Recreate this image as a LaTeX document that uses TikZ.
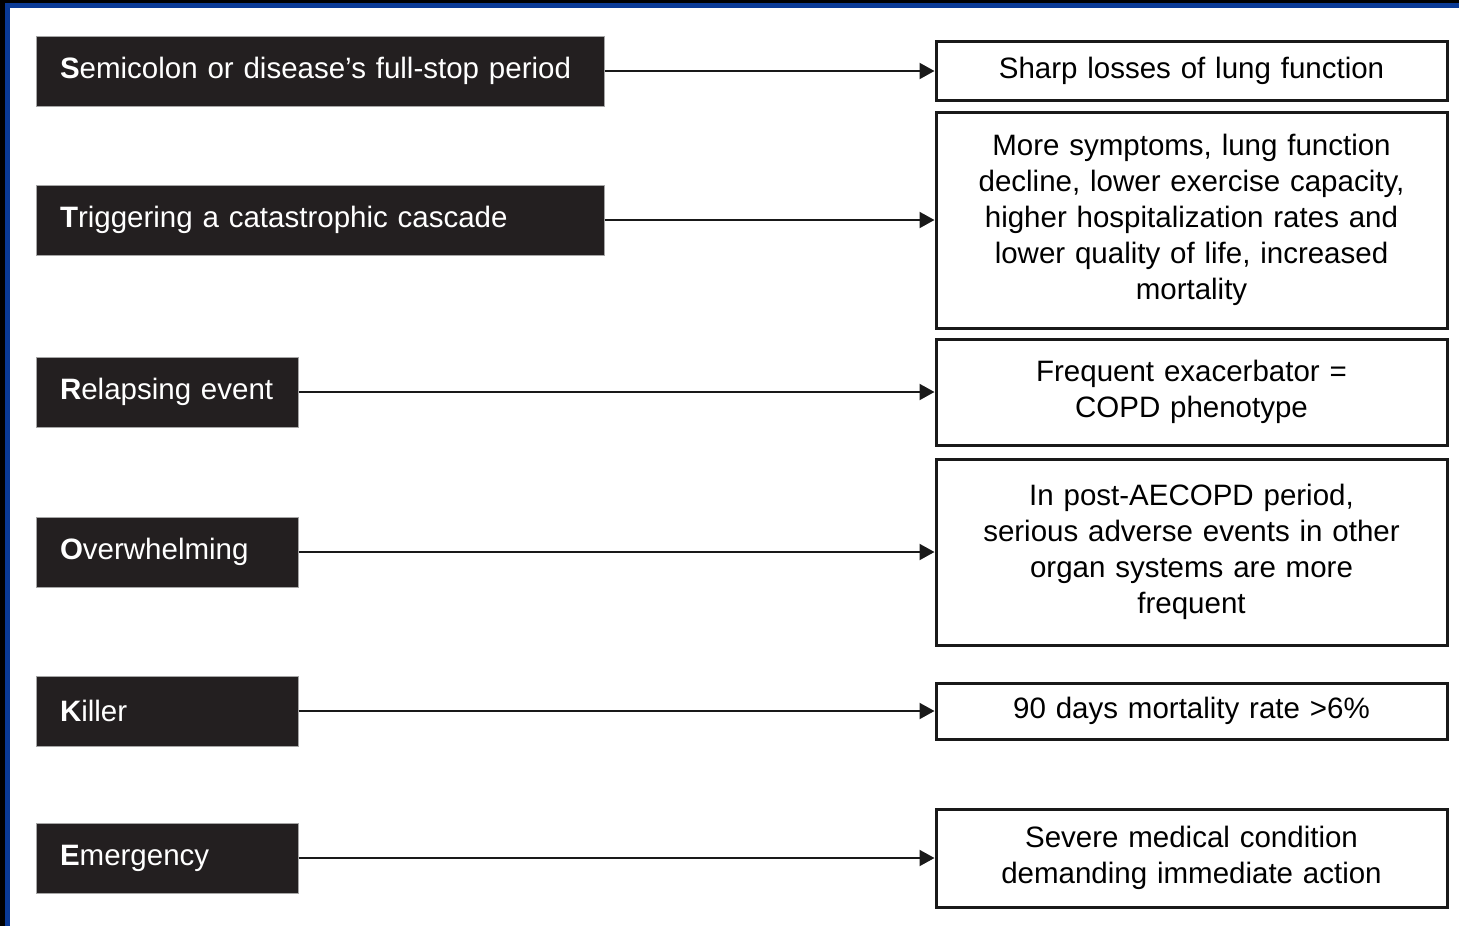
\documentclass[tikz,border=0pt]{standalone}
\usepackage{fontspec}
\setmainfont{Liberation Sans}
\usetikzlibrary{arrows.meta}
\definecolor{darkbox}{HTML}{231F20}
\definecolor{frameblue}{HTML}{0A3A96}
\begin{document}
\begin{tikzpicture}[x=1pt,y=-1pt,
  lbl/.style={draw=gray!70,line width=1pt,fill=darkbox,text=white,inner xsep=24pt,inner ysep=0pt,
    minimum height=70pt,align=left,font=\fontsize{29.5}{36}\selectfont,anchor=center},
  res/.style={draw=black!90,line width=3pt,fill=white,inner sep=0pt,minimum width=511pt,
    text width=500pt,align=center,font=\fontsize{29.5}{36}\selectfont,anchor=center},
  conn/.style={draw=black!90,line width=2pt,-{Triangle[length=15pt,width=16pt]}}]
\useasboundingbox (0,0) rectangle (1459,926);
\fill[white] (0,0) rectangle (1459,926);
\fill[black] (0,0) rectangle (1459,3);
\fill[black] (0,0) rectangle (5,926);
\fill[frameblue] (5,3) rectangle (1459,8);
\fill[frameblue] (5,3) rectangle (10,926);

\node[lbl,text width=520pt] (l1) at (320,71) {\textbf{S}emicolon or disease’s full-stop period};
\node[lbl,text width=520pt] (l2) at (320,220) {\textbf{T}riggering a catastrophic cascade};
\node[lbl,text width=214pt] (l3) at (167,392) {\textbf{R}elapsing event};
\node[lbl,text width=214pt] (l4) at (167,552) {\textbf{O}verwhelming};
\node[lbl,text width=214pt] (l5) at (167,711) {\textbf{K}iller};
\node[lbl,text width=214pt] (l6) at (167,858) {\textbf{E}mergency};

\node[res,minimum height=59pt] (r1) at (1191.5,70.5) {Sharp losses of lung function};
\node[res,minimum height=216pt] (r2) at (1191.5,220) {More symptoms, lung function\\decline, lower exercise capacity,\\higher hospitalization rates and\\lower quality of life, increased\\mortality};
\node[res,minimum height=106pt] (r3) at (1191.5,392) {Frequent exacerbator =\\COPD phenotype};
\node[res,minimum height=186pt] (r4) at (1191.5,552) {In post-AECOPD period,\\serious adverse events in other\\organ systems are more\\frequent};
\node[res,minimum height=56pt] (r5) at (1191.5,711) {90 days mortality rate >6\%};
\node[res,minimum height=98pt] (r6) at (1191.5,858) {Severe medical condition\\demanding immediate action};

\foreach \i in {1,...,6}{
  \draw[conn] (l\i.east) -- (l\i.east -| r\i.west);
}
\end{tikzpicture}
\end{document}
